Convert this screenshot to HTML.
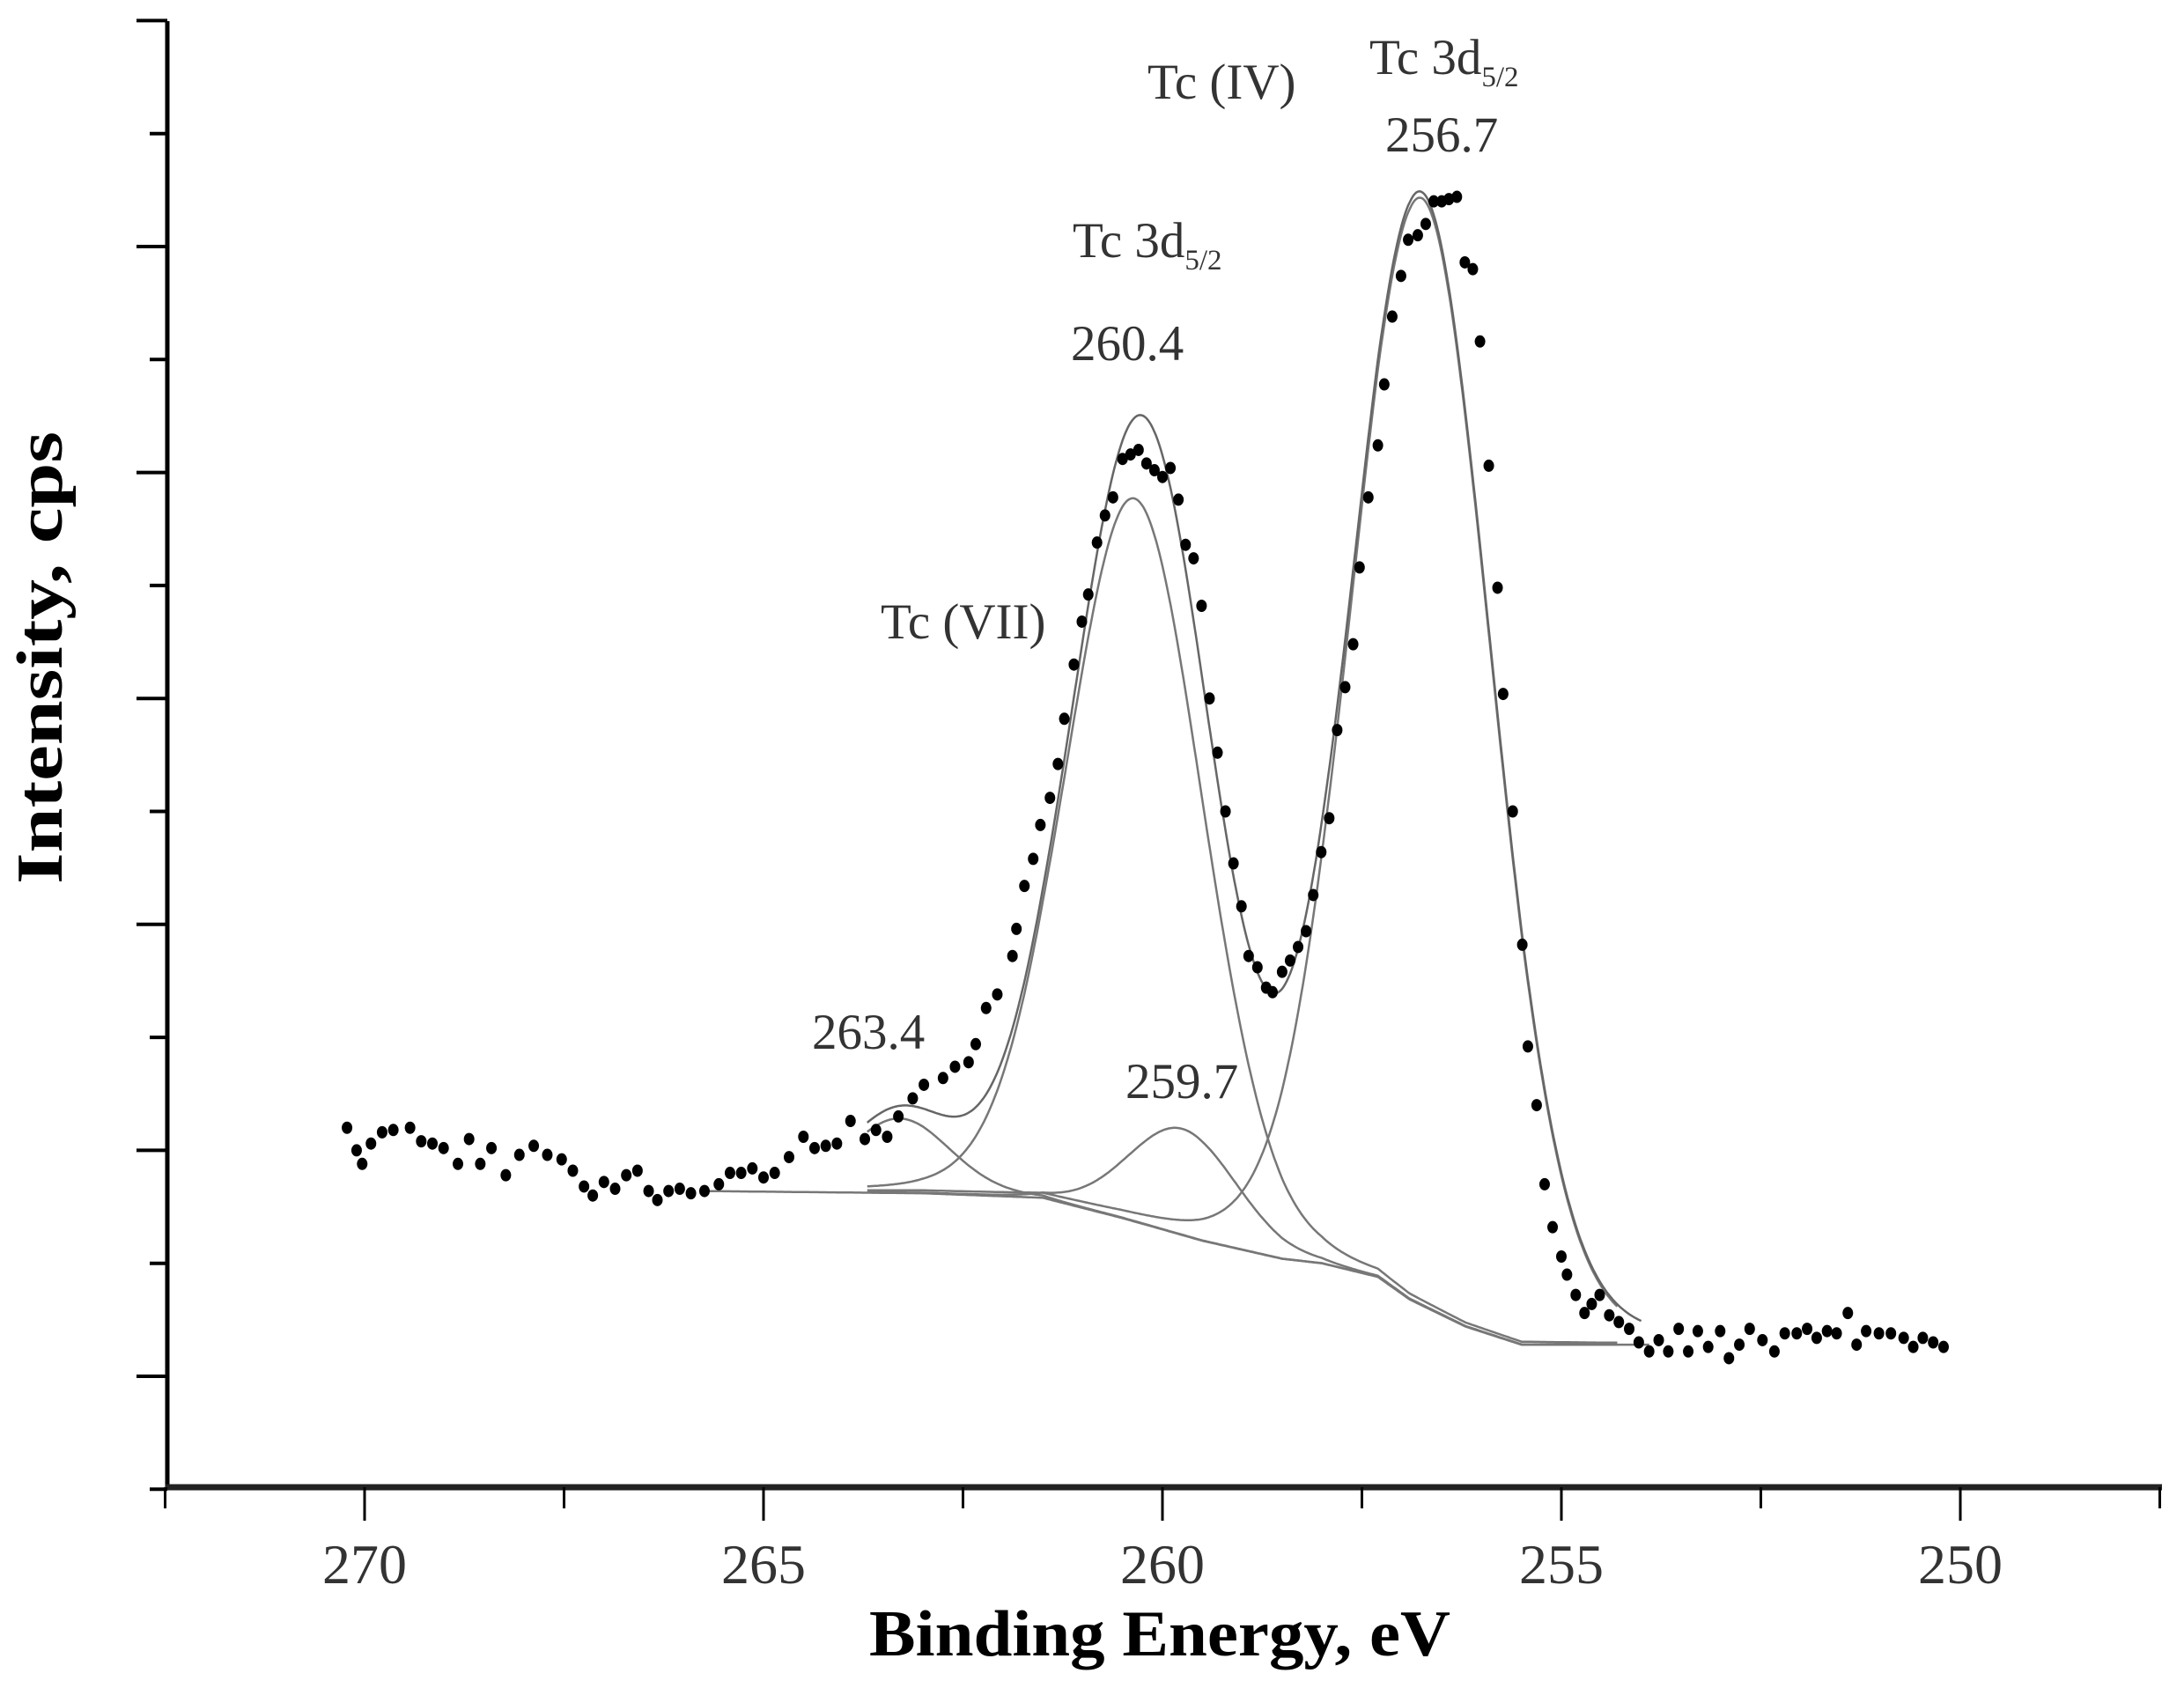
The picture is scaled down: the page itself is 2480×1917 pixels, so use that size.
<!DOCTYPE html>
<html><head><meta charset="utf-8"><style>
html,body{margin:0;padding:0;background:#fff;}
svg{display:block;}
text{font-family:"Liberation Serif",serif;}
</style></head><body>
<svg id="chart" width="2480" height="1917" viewBox="0 0 2480 1917" xmlns="http://www.w3.org/2000/svg">
<g id="axes"></g>
<g id="fits"></g>
<g id="dots"></g>
<g id="labels"></g>
</svg>
<script>
// ---- data ----
const energies = [270.22,270.10,270.03,269.92,269.78,269.64,269.43,269.29,269.15,269.01,268.83,268.69,268.55,268.41,268.23,268.06,267.88,267.71,267.53,267.39,267.25,267.14,267.00,266.86,266.72,266.58,266.44,266.33,266.19,266.05,265.91,265.74,265.56,265.42,265.28,265.14,265.00,264.86,264.68,264.50,264.36,264.22,264.08,263.91,263.73,263.59,263.45,263.31,263.13,262.99,262.75,262.60,262.43,262.34,262.21,262.07,
261.88,261.83,261.73,261.62,261.53,261.41,261.31,261.23,261.11,261.01,260.93,260.82,260.72,260.62,260.50,260.40,260.30,260.20,260.10,260.00,259.90,259.80,259.71,259.61,259.51,259.41,259.31,259.21,259.11,259.01,258.92,258.81,258.70,258.62,258.50,258.40,258.30,258.20,258.11,258.01,257.91,257.81,257.71,257.61,257.53,257.42,257.30,257.22,257.12,257.01,256.92,256.80,256.70,256.60,256.50,256.41,256.31,256.21,256.11,256.02,255.91,255.80,255.73,255.61,255.49,
255.42,255.31,255.21,255.11,255.00,254.93,254.82,254.71,254.62,254.52,254.40,254.28,254.15,254.03,253.90,253.78,253.66,253.53,253.41,253.29,253.16,253.01,252.90,252.77,252.64,252.48,252.33,252.20,252.05,251.92,251.80,251.67,251.55,251.41,251.30,251.18,251.02,250.87,250.71,250.59,250.47,250.34,250.21];
const intensities = [1.10,1.00,0.94,1.03,1.08,1.09,1.10,1.04,1.03,1.01,0.94,1.05,0.94,1.01,0.89,0.98,1.02,0.98,0.96,0.91,0.84,0.80,0.86,0.83,0.89,0.91,0.82,0.78,0.82,0.83,0.81,0.82,0.85,0.90,0.90,0.92,0.88,0.90,0.97,1.06,1.01,1.02,1.03,1.13,1.05,1.09,1.06,1.15,1.23,1.29,1.32,1.37,1.39,1.47,1.63,1.69,
1.86,1.98,2.17,2.29,2.44,2.56,2.71,2.91,3.15,3.34,3.46,3.69,3.81,3.89,4.06,4.08,4.10,4.04,4.01,3.98,4.02,3.88,3.68,3.62,3.41,3.00,2.76,2.50,2.27,2.08,1.86,1.81,1.72,1.70,1.79,1.84,1.90,1.97,2.13,2.32,2.47,2.86,3.05,3.24,3.58,3.89,4.12,4.39,4.69,4.87,5.03,5.05,5.10,5.20,5.20,5.21,5.22,4.93,4.90,4.58,4.03,3.49,3.02,2.50,1.91,
1.46,1.20,0.85,0.66,0.53,0.45,0.36,0.28,0.32,0.36,0.27,0.24,0.21,0.15,0.11,0.16,0.11,0.21,0.11,0.20,0.13,0.20,0.08,0.14,0.21,0.16,0.11,0.19,0.19,0.21,0.17,0.20,0.19,0.28,0.14,0.20,0.19,0.19,0.17,0.13,0.17,0.15,0.13];
// background
const bgEnergies = [265.8,263.0,261.5,260.5,259.5,258.5,258.0,257.3,256.9,256.2,255.5,253.9];
const bgValues   = [0.82,0.81,0.79,0.70,0.60,0.52,0.50,0.44,0.34,0.22,0.14,0.14];
// fitted components
const peakNames   = ['263.4','Tc(VII) 260.4','259.7','Tc(IV) 256.7'];
const peakCenters = [263.3,260.35,259.75,256.75];
const peakHeights = [0.33,3.2,0.47,4.9];
const peakFwhm    = [1.5,2.02,1.6,2.08];
const xTickLabels = [270,265,260,255,250];
const yMajorTicks = [0,1,2,3,4,5,6];

// ---- scales ----
const NS='http://www.w3.org/2000/svg';
const X0=190, XR=2455, Y0=1689;
function xs(e){return 414+(270-e)*90.6;}
function ys(v){return 1563-v*256.6;}
function mk(tag,attrs,parent){const el=document.createElementNS(NS,tag);for(const k in attrs)el.setAttribute(k,attrs[k]);parent.appendChild(el);return el;}
function bgAt(e){
  if(e>=bgEnergies[0])return bgValues[0];
  for(let i=0;i<bgEnergies.length-1;i++){const a=bgEnergies[i],b=bgEnergies[i+1];if(e<=a&&e>=b){const t=(a-e)/(a-b);return bgValues[i]+t*(bgValues[i+1]-bgValues[i]);}}
  return bgValues[bgValues.length-1];
}
function gl(e,i){const d=e-peakCenters[i],w=peakFwhm[i];const g=Math.exp(-4*Math.LN2*d*d/(w*w));const l=1/(1+4*d*d/(w*w));return peakHeights[i]*(0.9*g+0.1*l);}

const axes=document.getElementById('axes');
let el=mk('line',{x1:X0,y1:24,x2:X0,y2:Y0+2,stroke:'#000','stroke-width':5},axes);


el=mk('line',{x1:X0-2,y1:Y0,x2:XR,y2:Y0,stroke:'#222','stroke-width':7},axes);


for(let e=272.5;e>=247.4;e-=2.5){
  const major=Math.abs(e-Math.round(e/5)*5)<0.01;
  const t=mk('line',{x1:xs(e),y1:Y0,x2:xs(e),y2:Y0+(major?38:24),stroke:'#000','stroke-width':3},axes);
  
  
}
xTickLabels.forEach(v=>{
  const t=mk('text',{x:xs(v),y:1798,'text-anchor':'middle','font-size':64,fill:'#333'},axes);
  t.textContent=v;
  
  
});
yMajorTicks.forEach(v=>{
  const t=mk('line',{x1:X0-35,y1:ys(v),x2:X0,y2:ys(v),stroke:'#000','stroke-width':4},axes);
  
  
  if(v<6){
    const m=mk('line',{x1:X0-20,y1:ys(v+0.5),x2:X0,y2:ys(v+0.5),stroke:'#000','stroke-width':4},axes);
    
    
  }
});
const m0=mk('line',{x1:X0-20,y1:ys(-0.5),x2:X0,y2:ys(-0.5),stroke:'#000','stroke-width':4},axes);


el=mk('text',{x:1317,y:1880,'text-anchor':'middle','font-size':74,'font-weight':'bold',fill:'#000',textLength:660,lengthAdjust:'spacingAndGlyphs'},axes);
el.textContent='Binding Energy, eV';


el=mk('text',{transform:'translate(70,747) rotate(-90)','text-anchor':'middle','font-size':74,'font-weight':'bold',fill:'#000',textLength:514,lengthAdjust:'spacingAndGlyphs'},axes);
el.textContent='Intensity, cps';



// fits
const fits=document.getElementById('fits');
function pathFrom(pts){return pts.map((p,i)=>(i?'L':'M')+p[0].toFixed(1)+' '+p[1].toFixed(1)).join(' ');}
const eStart=bgEnergies[0], eEnd=bgEnergies[bgEnergies.length-1];
let bgPts=[];for(let e=eStart;e>=eEnd-1e-6;e-=0.02)bgPts.push([xs(e),ys(bgAt(e))]);
el=mk('path',{d:pathFrom(bgPts),fill:'none',stroke:'#777','stroke-width':2.5},fits);


peakCenters.forEach((c,i)=>{
  const pts=[];
  for(let e=263.7;e>=254.3;e-=0.02){pts.push([xs(e),ys(bgAt(e)+gl(e,i))]);}
  const p=mk('path',{d:pathFrom(pts),fill:'none',stroke:'#777','stroke-width':2.5},fits);
  
  
});
let env=[];for(let e=263.7;e>=254.0;e-=0.02){let s=bgAt(e);for(let i=0;i<peakCenters.length;i++)s+=gl(e,i);env.push([xs(e),ys(s)]);}
el=mk('path',{d:pathFrom(env),fill:'none',stroke:'#666','stroke-width':2.5},fits);



// dots
const dots=document.getElementById('dots');
energies.forEach((e,i)=>{
  const d=mk('ellipse',{cx:xs(e),cy:ys(intensities[i]),rx:6,ry:7,fill:'#000'},dots);
  
  
});

// annotations
const labels=document.getElementById('labels');
function lab(x,y,txt,name,sub){
  const t=mk('text',{x:x,y:y,'font-size':57,fill:'#333'},labels);
  t.textContent=txt;
  if(sub){const s=mk('tspan',{'font-size':33,dy:14},t);s.textContent=sub;}
  
  
}
lab(1303,112,'Tc (IV)','label-tc-iv');
lab(1555,84,'Tc 3d','label-tc3d-256','5/2');
lab(1573,172,'256.7','label-256-7');
lab(1218,292,'Tc 3d','label-tc3d-260','5/2');
lab(1216,409,'260.4','label-260-4');
lab(1000,725,'Tc (VII)','label-tc-vii');
lab(922,1191,'263.4','label-263-4');
lab(1278,1247,'259.7','label-259-7');
</script>
</body></html>
